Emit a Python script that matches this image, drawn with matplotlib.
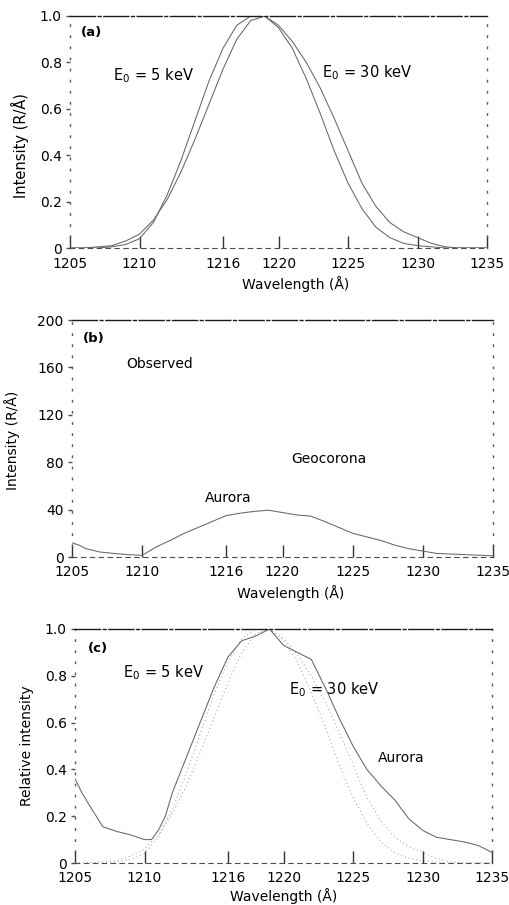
import matplotlib
matplotlib.use("Agg")
import matplotlib.pyplot as plt
from matplotlib.ticker import FuncFormatter

plt.rcParams['font.family'] = ['DejaVu Sans']

# ---------------- data ----------------
xticks = [1205, 1210, 1216, 1220, 1225, 1230, 1235]

wl_model = [1205, 1206, 1207, 1208, 1209, 1210, 1211, 1212, 1213, 1214, 1215,
            1216, 1217, 1218, 1219, 1220, 1221, 1222, 1223, 1224, 1225, 1226,
            1227, 1228, 1229, 1230, 1231, 1232, 1233, 1234, 1235]
rel_5kev = [0.0, 0.0, 0.0, 0.005, 0.015, 0.04, 0.11, 0.23, 0.38, 0.55, 0.72,
            0.86, 0.96, 1.0, 1.0, 0.95, 0.86, 0.73, 0.58, 0.42, 0.28, 0.17,
            0.09, 0.045, 0.02, 0.01, 0.005, 0.0, 0.0, 0.0, 0.0]
rel_30kev = [0.0, 0.0, 0.005, 0.01, 0.03, 0.06, 0.12, 0.21, 0.33, 0.47, 0.62,
             0.77, 0.9, 0.98, 1.0, 0.96, 0.89, 0.8, 0.69, 0.56, 0.42, 0.28,
             0.18, 0.11, 0.07, 0.045, 0.02, 0.005, 0.0, 0.0, 0.0]

wl_obs = [1205, 1205.5, 1206, 1207, 1208, 1209, 1210, 1211, 1212, 1213, 1214,
          1215, 1216, 1217, 1218, 1219, 1220, 1221, 1222, 1223, 1224, 1225,
          1226, 1227, 1228, 1229, 1230, 1231, 1232, 1233, 1234, 1235]
aurora_b = [12, 10, 7, 4.2, 3, 2, 1.4, 8.5, 14, 20, 25, 30, 35, 37, 38.5, 39.5,
            37.5, 35.5, 34.5, 30, 25, 20, 17, 14, 10, 7, 5, 3, 2.5, 2, 1.5, 1]

wl_rel = [1205, 1205.5, 1206, 1207, 1208, 1209, 1210, 1210.5, 1211, 1211.5,
          1212, 1213, 1214, 1215, 1216, 1217, 1218, 1219, 1220, 1221, 1222,
          1223, 1224, 1225, 1226, 1227, 1228, 1229, 1230, 1231, 1232, 1233,
          1234, 1235]
aurora_c = [0.36, 0.3, 0.25, 0.155, 0.135, 0.12, 0.1, 0.1, 0.14, 0.2, 0.3,
            0.45, 0.6, 0.75, 0.88, 0.95, 0.97, 1.0, 0.93, 0.9, 0.87, 0.75,
            0.62, 0.5, 0.4, 0.33, 0.27, 0.19, 0.14, 0.11, 0.1, 0.09, 0.075,
            0.045]

yticks_rel = [0, 0.2, 0.4, 0.6, 0.8, 1.0]
yticks_b = [0, 40, 80, 120, 160, 200]

W, H = 510, 905
fig = plt.figure(figsize=(W / 100, H / 100), dpi=100)


def axes_px(l, t, r, b):
    return fig.add_axes([l / W, 1 - b / H, (r - l) / W, (b - t) / H])


def style(ax, pad_x):
    ax.set_xlim(1205, 1235)
    ax.set_xticks(xticks)
    ax.tick_params(axis='x', direction='in', length=9, width=1.0,
                   color='0.2', pad=pad_x, labelsize=10)
    ax.tick_params(axis='y', direction='out', length=3, width=1.0,
                   color='0.3', pad=3, labelsize=10)
    ax.spines['top'].set_linestyle((0, (18, 2, 2, 2)))
    ax.spines['top'].set_color('0.1')
    ax.spines['top'].set_linewidth(1.0)
    ax.spines['bottom'].set_linestyle((0, (4, 4)))
    ax.spines['bottom'].set_color('0.3')
    ax.spines['bottom'].set_linewidth(0.8)
    for s in ('left', 'right'):
        ax.spines[s].set_linestyle((0, (1, 7)))
        ax.spines[s].set_color('0.35')
        ax.spines[s].set_linewidth(1.0)


fmt_rel = FuncFormatter(lambda v, p: '0' if v == 0 else f'{v:.1f}')
line_kw = dict(color='0.4', lw=0.75)

# ---------------- panel (a) ----------------
axa = axes_px(70, 16, 487, 248)
style(axa, 6.5)
axa.plot(wl_model, rel_5kev, **line_kw)
axa.plot(wl_model, rel_30kev, **line_kw)
axa.set_ylim(0, 1.0)
axa.set_yticks(yticks_rel)
axa.yaxis.set_major_formatter(fmt_rel)
axa.set_ylabel('Intensity (R/Å)', fontsize=10.5)
axa.set_xlabel('Wavelength (Å)', fontsize=10)
axa.yaxis.set_label_coords(-0.098, 0.44)
axa.xaxis.set_label_coords(0.54, -0.12)
axa.text(0.025, 0.93, '(a)', transform=axa.transAxes, fontsize=9.5,
         fontweight='bold', va='center')
axa.text(0.103, 0.745, 'E$_0$ = 5 keV', transform=axa.transAxes,
         fontsize=10.5, va='center')
axa.text(0.605, 0.755, 'E$_0$ = 30 keV', transform=axa.transAxes,
         fontsize=10.5, va='center')

# ---------------- panel (b) ----------------
axb = axes_px(72, 320, 493, 557)
style(axb, 6)
axb.plot(wl_obs, aurora_b, **line_kw)
axb.set_ylim(0, 200)
axb.set_yticks(yticks_b)
axb.set_ylabel('Intensity (R/Å)', fontsize=10)
axb.set_xlabel('Wavelength (Å)', fontsize=10)
axb.yaxis.set_label_coords(-0.123, 0.49)
axb.xaxis.set_label_coords(0.52, -0.118)
axb.text(0.025, 0.92, '(b)', transform=axb.transAxes, fontsize=9.5,
         fontweight='bold', va='center')
axb.text(0.128, 0.815, 'Observed', transform=axb.transAxes, fontsize=10,
         va='center')
axb.text(0.52, 0.415, 'Geocorona', transform=axb.transAxes, fontsize=10,
         va='center')
axb.text(0.315, 0.25, 'Aurora', transform=axb.transAxes, fontsize=10,
         va='center')

# ---------------- panel (c) ----------------
axc = axes_px(75, 629, 492, 863)
style(axc, 6)
axc.plot(wl_model, rel_5kev, color='0.6', lw=0.7, ls=(0, (1, 3)))
axc.plot(wl_model, rel_30kev, color='0.6', lw=0.7, ls=(0, (1, 3)))
axc.plot(wl_rel, aurora_c, **line_kw)
axc.set_ylim(0, 1.0)
axc.set_yticks(yticks_rel)
axc.yaxis.set_major_formatter(fmt_rel)
axc.set_ylabel('Relative intensity', fontsize=10)
axc.set_xlabel('Wavelength (Å)', fontsize=10)
axc.yaxis.set_label_coords(-0.098, 0.50)
axc.xaxis.set_label_coords(0.50, -0.107)
axc.text(0.03, 0.915, '(c)', transform=axc.transAxes, fontsize=9.5,
         fontweight='bold', va='center')
axc.text(0.115, 0.815, 'E$_0$ = 5 keV', transform=axc.transAxes,
         fontsize=10.5, va='center')
axc.text(0.513, 0.74, 'E$_0$ = 30 keV', transform=axc.transAxes,
         fontsize=10.5, va='center')
axc.text(0.727, 0.45, 'Aurora', transform=axc.transAxes, fontsize=10,
         va='center')

fig.savefig('out.png', dpi=100)
